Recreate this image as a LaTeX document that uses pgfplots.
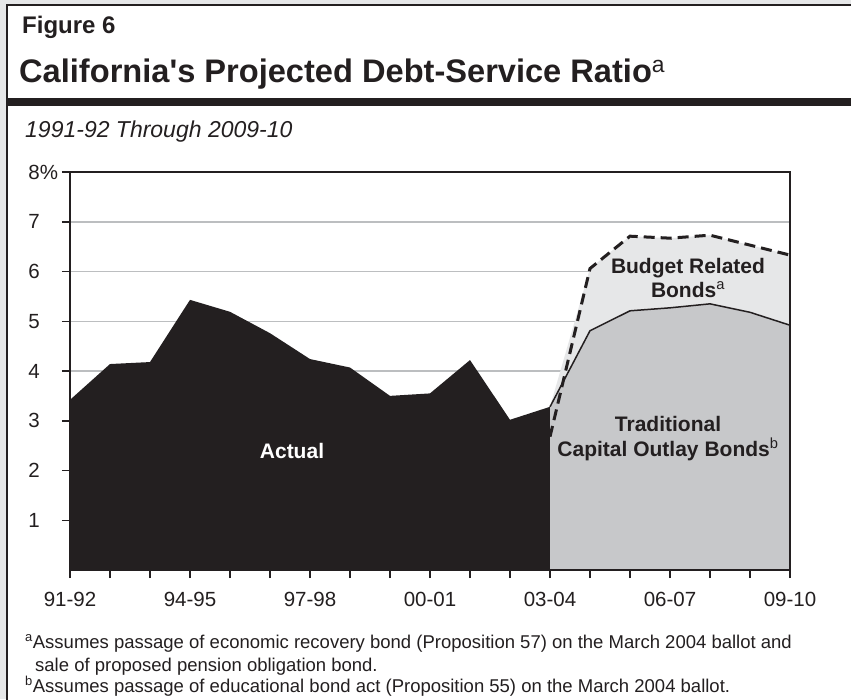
\documentclass[border=0pt]{standalone}
\usepackage{fontspec}
\setmainfont{Liberation Sans}
\usepackage{pgfplots}
\pgfplotsset{compat=1.18}
\definecolor{ink}{HTML}{231F20}
\definecolor{gridgray}{HTML}{BCBEC0}
\definecolor{lightfill}{HTML}{E6E7E8}
\definecolor{midfill}{HTML}{C7C8CA}
\definecolor{bggray}{HTML}{E6E7E8}

\pgfplotstableread{
x y
0 3.42
1 4.14
2 4.18
3 5.43
4 5.19
5 4.76
6 4.24
7 4.07
8 3.50
9 3.55
10 4.22
11 3.02
12 3.28
}\actual

\pgfplotstableread{
x y
12 3.28
13 4.81
14 5.21
15 5.27
16 5.35
17 5.18
18 4.92
}\traditional

\pgfplotstableread{
x y
12 3.28
13 6.06
14 6.71
15 6.67
16 6.73
17 6.53
18 6.33
}\budgetfill

\pgfplotstableread{
x y
12 2.68
13 6.06
14 6.71
15 6.67
16 6.73
17 6.53
18 6.33
}\budgetline

\begin{document}
\begin{tikzpicture}
\useasboundingbox (0,0) rectangle (851pt,-699pt);
\fill[bggray] (0,0) rectangle (851pt,-699pt);
\fill[white] (7pt,-5pt) rectangle (851pt,-699pt);
\draw[ink, line width=2.5pt] (7pt,-720pt) -- (7pt,-5pt) -- (860pt,-5pt);
\fill[ink] (7pt,-98pt) rectangle (860pt,-106pt);

\node[anchor=base west, inner sep=0, text=ink, font=\fontsize{24}{28}\selectfont\bfseries] at (22pt,-33pt) {Figure 6};
\node[anchor=base west, inner sep=0, text=ink, font=\fontsize{32.6}{38}\selectfont\bfseries] at (19pt,-82pt) {California\textquotesingle s Projected Debt-Service Ratio\textsuperscript{\mdseries a}};
\node[anchor=base west, inner sep=0, text=ink, font=\fontsize{23}{27}\selectfont\itshape] at (25pt,-137pt) {1991-92 Through 2009-10};

\begin{axis}[
  at={(70pt,-570pt)}, anchor=south west,
  scale only axis, width=720pt, height=398pt,
  xmin=0, xmax=18, ymin=0, ymax=8,
  axis line style={ink, line width=2pt},
  xtick={0,...,18},
  xticklabels={91-92,,,94-95,,,97-98,,,00-01,,,03-04,,,06-07,,,09-10},
  ytick={1,...,8},
  yticklabels={\makebox[30pt][l]{1},\makebox[30pt][l]{2},\makebox[30pt][l]{3},\makebox[30pt][l]{4},\makebox[30pt][l]{5},\makebox[30pt][l]{6},\makebox[30pt][l]{7},\makebox[30pt][l]{8\%}},
  tick align=outside,
  xtick pos=bottom, ytick pos=left,
  major tick length=8pt,
  tick style={ink, line width=1.5pt},
  ymajorgrids,
  grid style={gridgray, line width=1.5pt},
  ticklabel style={font=\fontsize{20.5}{24}\selectfont, text=ink},
  xticklabel style={yshift=-11pt},
  /pgf/number format/assume math mode=true,
  clip=false,
]
\addplot[fill=ink, draw=none] table[x=x, y=y] {\actual} \closedcycle;
\addplot[fill=lightfill, draw=none] table[x=x, y=y] {\budgetfill} \closedcycle;
\addplot[fill=midfill, draw=none] table[x=x, y=y] {\traditional} \closedcycle;
\addplot[ink, line width=1.5pt] table[x=x, y=y] {\traditional};
\addplot[ink, line width=3pt, dash pattern=on 11pt off 6pt] table[x=x, y=y] {\budgetline};
\draw[ink, line width=2pt] (rel axis cs:0,0) -- (rel axis cs:0,1) -- (rel axis cs:1,1);
\draw[ink, line width=1.5pt] (rel axis cs:1,1) -- (rel axis cs:1,0) -- (rel axis cs:0,0);
\node[text=white, font=\fontsize{21}{25}\selectfont\bfseries] at (axis cs:5.55,2.4) {Actual};
\node[text=ink, align=center, font=\fontsize{21}{24}\selectfont\bfseries] at (axis cs:15.45,5.87) {Budget Related\\Bonds\textsuperscript{\mdseries a}};
\node[text=ink, align=center, font=\fontsize{21}{25}\selectfont\bfseries] at (axis cs:14.95,2.65) {Traditional\\Capital Outlay Bonds\textsuperscript{\mdseries b}};
\end{axis}

\node[anchor=base west, inner sep=0, text=ink, font=\fontsize{18.5}{22}\selectfont] at (25pt,-648pt) {\textsuperscript{a}Assumes passage of economic recovery bond (Proposition 57) on the March 2004 ballot and};
\node[anchor=base west, inner sep=0, text=ink, font=\fontsize{18.5}{22}\selectfont] at (35pt,-671pt) {sale of proposed pension obligation bond.};
\node[anchor=base west, inner sep=0, text=ink, font=\fontsize{18.5}{22}\selectfont] at (25pt,-692pt) {\textsuperscript{b}Assumes passage of educational bond act (Proposition 55) on the March 2004 ballot.};
\end{tikzpicture}
\end{document}
